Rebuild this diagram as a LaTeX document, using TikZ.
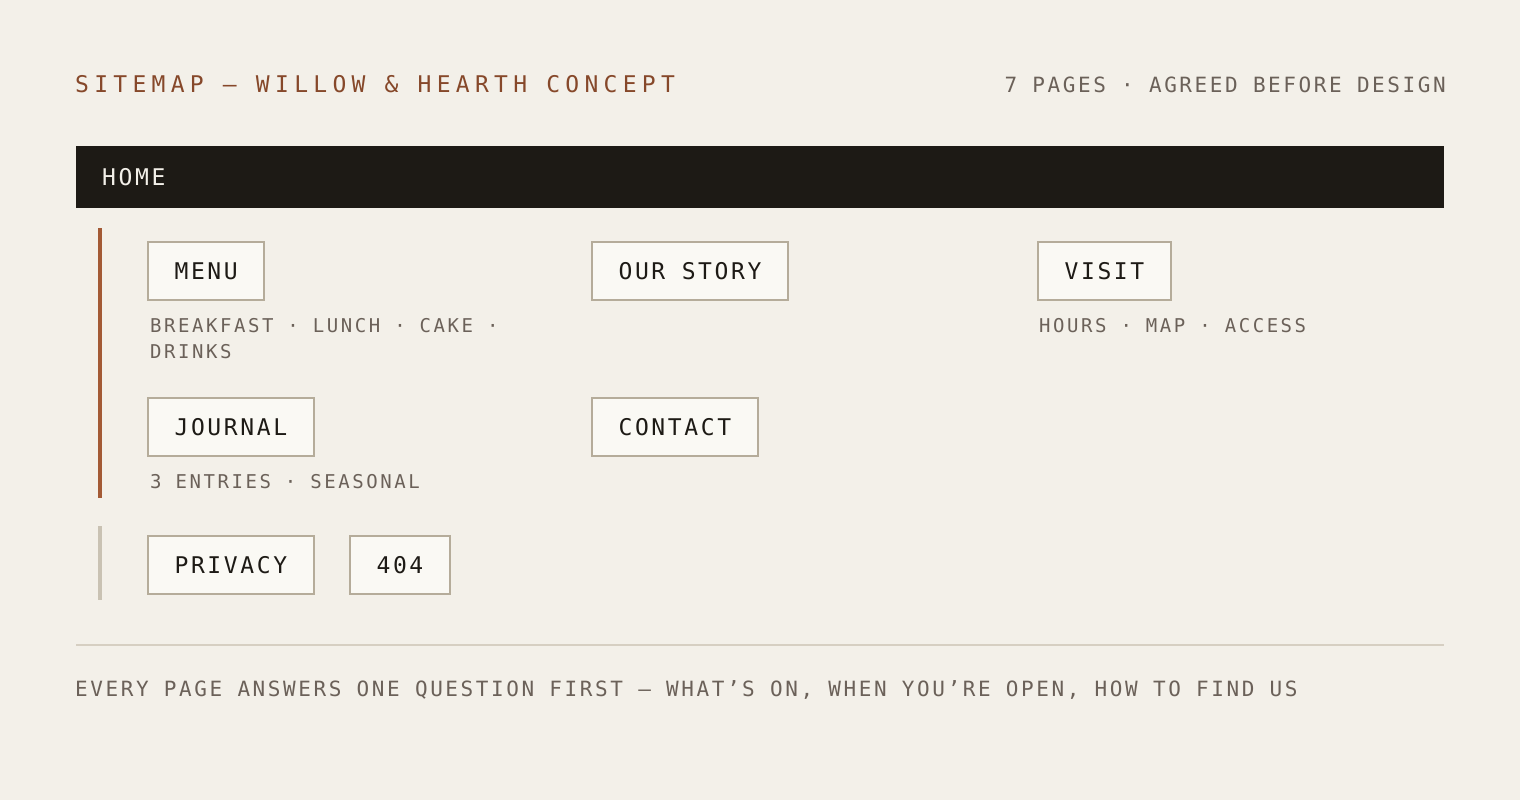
\documentclass[tikz,border=0pt]{standalone}
\usepackage{fontspec}
\usepackage{tikz}
\newfontfamily\headfont[LetterSpace=23]{DejaVu Sans Mono}
\newfontfamily\pagefont[LetterSpace=11.3]{DejaVu Sans Mono}
\newfontfamily\notefont[LetterSpace=13.4]{DejaVu Sans Mono}
\newfontfamily\metafont[LetterSpace=12.3]{DejaVu Sans Mono}
\definecolor{paper}{HTML}{F3F0E9}
\definecolor{ink}{HTML}{1D1A15}
\definecolor{rust}{HTML}{86482A}
\definecolor{sienna}{HTML}{A35A35}
\definecolor{muted}{HTML}{6B6159}
\definecolor{boxfill}{HTML}{FAF9F4}
\definecolor{boxline}{HTML}{B5AC9A}
\definecolor{railgray}{HTML}{C9C2B3}
\definecolor{rulegray}{HTML}{D6CFC2}
\tikzset{
    block/.style = {draw=boxline, fill=boxfill, line width=2pt, rectangle,
        anchor=west,
        minimum height=58pt,
        inner xsep=26.6pt, inner ysep=0pt,
        text=ink, font=\pagefont\fontsize{23}{23}\selectfont,
        text height=16.8pt, text depth=0pt},
    note/.style = {anchor=north west, inner sep=0pt, align=left,
        text=muted, font=\notefont\fontsize{19}{26}\selectfont},
    meta/.style = {inner sep=0pt, text=muted,
        font=\metafont\fontsize{21}{21}\selectfont,
        text height=15.3pt, text depth=0pt},
    rail/.style = {line width=4pt}
}
\begin{document}
\begin{tikzpicture}[x=1pt,y=-1pt]
    \fill[paper] (0,0) rectangle (1520,800);
    \useasboundingbox (0,0) rectangle (1520,800);
    % header
    \node[anchor=west, inner sep=0pt, text=rust, font=\headfont\fontsize{23}{23}\selectfont,
        text height=16.8pt, text depth=0pt] (title) at (75,84) {SITEMAP — WILLOW \& HEARTH CONCEPT};
    \node[meta, anchor=east] (count) at (1446,84.5) {7 PAGES · AGREED BEFORE DESIGN};
    % home bar
    \fill[ink] (76,146) rectangle (1444,208);
    \node[anchor=west, inner sep=0pt, text=paper, font=\pagefont\fontsize{23}{23}\selectfont,
        text height=16.8pt, text depth=0pt] (home) at (102,177.5) {HOME};
    % rails
    \draw[rail, sienna] (100,228) -- (100,498);
    \draw[rail, railgray] (100,526) -- (100,600);
    % main pages
    \node[block] (menu) at (147,271) {MENU};
    \node[block] (story) at (591,271) {OUR STORY};
    \node[block] (visit) at (1037,271) {VISIT};
    \node[block] (journal) at (147,427) {JOURNAL};
    \node[block] (contact) at (591,427) {CONTACT};
    \node[note] (menunote) at (150,318) {BREAKFAST · LUNCH · CAKE ·\\DRINKS};
    \node[note] (visitnote) at (1039,318) {HOURS · MAP · ACCESS};
    \node[note] (journalnote) at (150,474) {3 ENTRIES · SEASONAL};
    % utility pages
    \node[block] (privacy) at (147,565) {PRIVACY};
    \node[block] (notfound) at (349,565) {404};
    % footer
    \draw[rulegray, line width=2pt] (76,645) -- (1444,645);
    \node[meta, anchor=west] (footer) at (75,688.5) {EVERY PAGE ANSWERS ONE QUESTION FIRST — WHAT’S ON, WHEN YOU’RE OPEN, HOW TO FIND US};
\end{tikzpicture}
\end{document}
